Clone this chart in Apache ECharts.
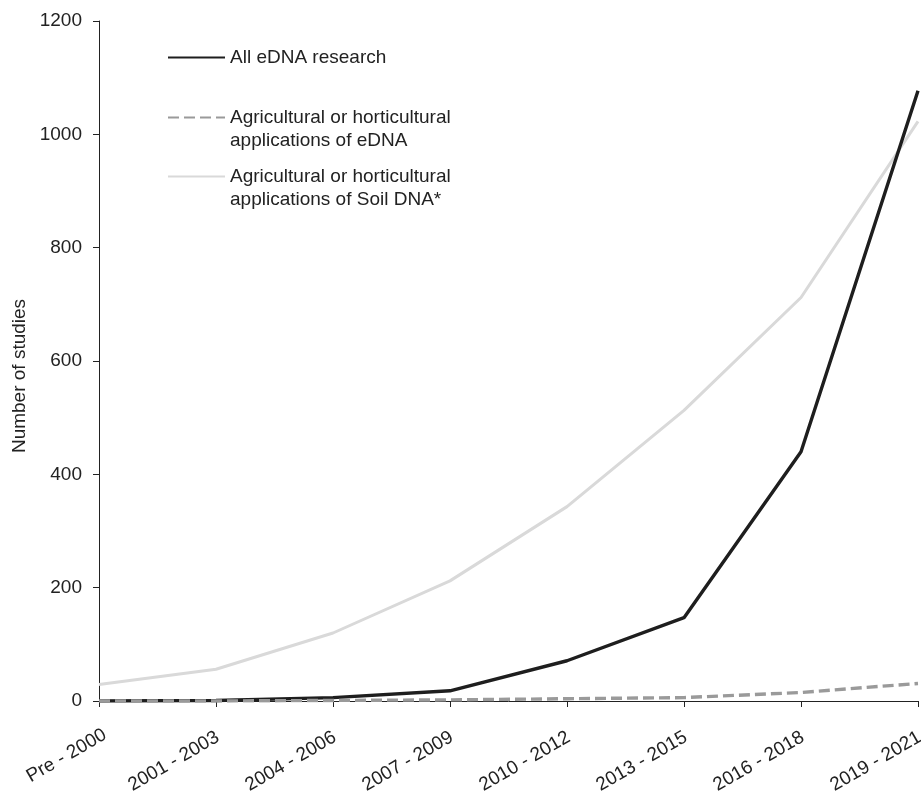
<!DOCTYPE html>
<html>
<head>
<meta charset="utf-8">
<script src="https://cdn.jsdelivr.net/npm/echarts@6/dist/echarts.min.js"></script>
<style>
  html, body { margin: 0; padding: 0; background: #fff; }
  #chart { width: 921px; height: 791px; }
</style>
</head>
<body>
<div id="chart"></div>
<script>
const periods = ['Pre - 2000', '2001 - 2003', '2004 - 2006', '2007 - 2009', '2010 - 2012', '2013 - 2015', '2016 - 2018', '2019 - 2021'];
const allEdna = [0, 1, 6, 18, 71, 147, 440, 1077];
const agriEdna = [0, 0, 1, 2, 4, 6, 15, 31];
const agriSoil = [29, 56, 120, 212, 343, 513, 712, 1023];
const yTicks = [0, 200, 400, 600, 800, 1000, 1200];

const FONT = 'Arial, "Liberation Sans", sans-serif';
const TEXT = '#222';

const names = {
    all: 'All eDNA research',
    edna: 'Agricultural or horticultural applications of eDNA',
    soil: 'Agricultural or horticultural applications of Soil DNA*'
};
const legendLabels = {};
legendLabels[names.all] = 'All eDNA research';
legendLabels[names.edna] = ' \nAgricultural or horticultural\napplications of eDNA';
legendLabels[names.soil] = ' \nAgricultural or horticultural\napplications of Soil DNA*';

function legendAt(name, top) {
    return {
        data: [name],
        left: 167,
        top: top,
        padding: 0,
        orient: 'vertical',
        itemWidth: 57,
        itemHeight: 14,
        selectedMode: false,
        itemStyle: { opacity: 0 },
        formatter: n => legendLabels[n],
        textStyle: { fontFamily: FONT, fontSize: 19, color: TEXT, lineHeight: 23 }
    };
}

const labelFont = { fontFamily: FONT, fontSize: 19, color: TEXT };

const chart = echarts.init(document.getElementById('chart'));

chart.setOption({
    animation: false,
    backgroundColor: '#fff',
    grid: { left: 99, right: 3, top: 21, bottom: 90, outerBoundsMode: 'none' },
    legend: [
        legendAt(names.all, 46),
        legendAt(names.edna, 83),
        legendAt(names.soil, 142)
    ],
    xAxis: {
        type: 'category',
        data: periods,
        boundaryGap: false,
        axisLine: { lineStyle: { color: TEXT, width: 1 } },
        axisTick: { show: true, length: 6, lineStyle: { color: TEXT } },
        axisLabel: {
            rotate: 30, margin: 36, interval: 0,
            fontFamily: FONT, fontSize: 19, color: TEXT,
            formatter: (v, i) => (i === 0 ? '{a|' : '{b|') + v + '}',
            rich: {
                a: Object.assign({ padding: [0, -7, 0, 0] }, labelFont),
                b: Object.assign({ padding: [0, -2, 0, 0] }, labelFont)
            }
        },
        splitLine: { show: false }
    },
    yAxis: {
        type: 'value',
        min: yTicks[0],
        max: yTicks[yTicks.length - 1],
        interval: 200,
        name: 'Number of studies',
        nameLocation: 'middle',
        nameGap: 50,
        nameTextStyle: { fontFamily: FONT, fontSize: 19, color: TEXT, padding: [0, 30, 0, 0] },
        axisLine: { show: true, lineStyle: { color: TEXT, width: 1 } },
        axisTick: { show: true, length: 6, lineStyle: { color: TEXT } },
        axisLabel: { margin: 17, fontFamily: FONT, fontSize: 19, color: TEXT, formatter: v => String(v) },
        splitLine: { show: false }
    },
    series: [
        {
            name: names.soil,
            type: 'line',
            data: agriSoil,
            symbol: 'none',
            lineStyle: { color: '#d9d9d9', width: 3 },
            itemStyle: { color: '#d9d9d9' }
        },
        {
            name: names.all,
            type: 'line',
            data: allEdna,
            symbol: 'none',
            lineStyle: { color: '#1e1e1e', width: 3.4 },
            itemStyle: { color: '#1e1e1e' }
        },
        {
            name: names.edna,
            type: 'line',
            data: agriEdna,
            symbol: 'none',
            lineStyle: { color: '#9a9a9a', width: 3.4, type: [11, 5] },
            itemStyle: { color: '#9a9a9a' }
        }
    ]
});
</script>
</body>
</html>
